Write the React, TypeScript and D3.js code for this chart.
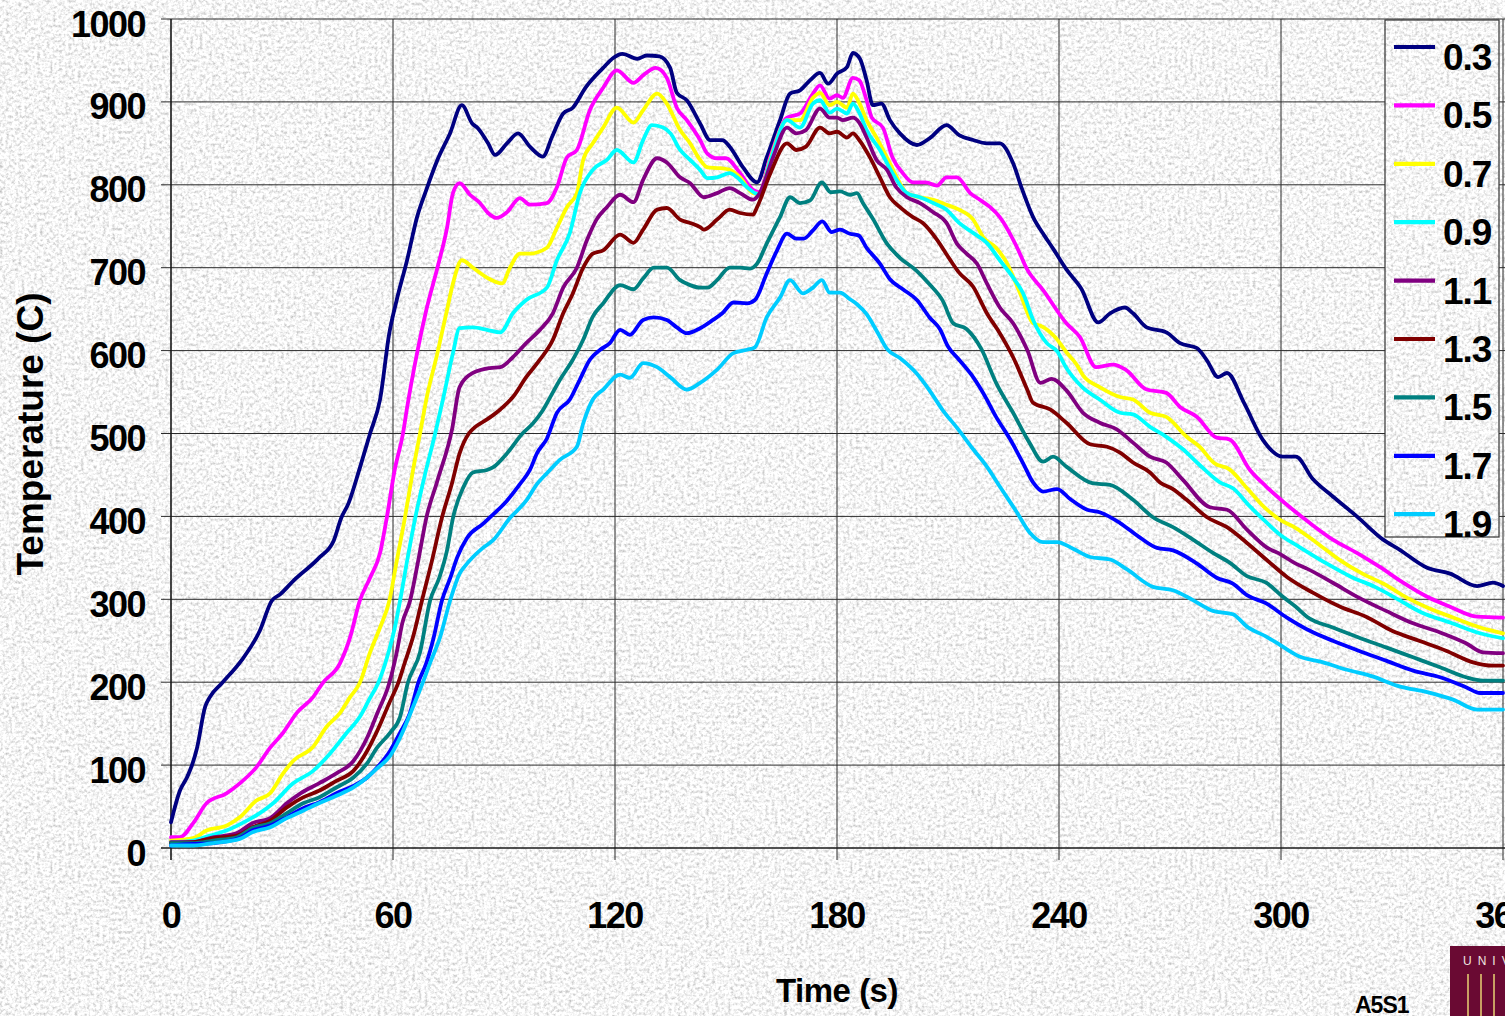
import React from "react";
import * as d3 from "d3";

const xTicks = [0, 60, 120, 180, 240, 300, 360];
const yTicks = [0, 100, 200, 300, 400, 500, 600, 700, 800, 900, 1000];
const seriesNames = ["0.3", "0.5", "0.7", "0.9", "1.1", "1.3", "1.5", "1.7", "1.9"];
const seriesColors = ["#000080", "#FF00FF", "#FFFF00", "#00FFFF", "#800080", "#800000", "#008080", "#0000FF", "#00CCFF"];

const s03 = [[0,31],[2.4,69],[4.3,85],[5.6,99],[7,120],[9.2,170],[10.5,182],[13.8,199],[19,226],[24,262],[27.2,298],[29.5,306],[33,322],[40,350],[44,371],[46,398],[48,416],[51,458],[53.8,500],[56.5,541],[59,621],[61,661],[63.8,709],[66.5,761],[69,794],[72,830],[75.4,862],[78.6,896],[81.4,874],[83,868],[85.7,850],[87.6,836],[90.8,850],[93.8,862],[97,846],[100.5,834],[103,858],[106,886],[108.6,893],[112,917],[116.8,941],[119.5,953],[122,958],[126,952],[128.6,956],[132,955],[134.9,941],[136.7,911],[139.4,902],[143,874],[145.7,854],[149,854],[151,846],[154.6,821],[158.4,803],[161,833],[164.6,878],[167.3,910],[170,914],[172.7,926],[175.4,935],[177.6,922],[180,934],[182.7,942],[184.3,959],[186.2,952],[188,926],[189.7,896],[192,898],[194.3,878],[197,862],[201.6,848],[205,856],[209.6,872],[213,860],[216.8,854],[220.5,850],[224,850],[227.6,826],[230,795],[233,761],[236,739],[238.4,723],[242,698],[246,675],[250.6,634],[253.8,645],[257.8,652],[260,645],[263.7,628],[269,622],[272.7,609],[277.3,603],[280,588],[283,568],[285.4,573],[290,537],[295,493],[300.5,472],[304,472],[308.6,445],[314,424],[320.5,400],[327.6,372],[332,360],[339.5,338],[345.7,331],[353,316],[357.3,320],[360,316]];

const s05 = [[0,13],[2.4,13],[6,30],[9.6,54],[15,66],[18.6,78],[23,97],[26.8,121],[30.3,139],[34,163],[38.4,182],[41,199],[45.7,223],[48.4,254],[51,298],[53.8,326],[56.5,356],[58.3,398],[60.5,457],[62.7,500],[63.8,531],[66.5,597],[69,649],[72,700],[74.6,748],[76.2,790],[78,802],[80.8,788],[83.5,778],[85.7,766],[88,760],[90.8,767],[94.3,784],[97,776],[101.6,778],[104.3,797],[107,833],[109.7,842],[113.2,890],[116.8,917],[120.5,938],[125,923],[127.6,932],[131,941],[134,929],[136.7,893],[139.4,878],[143,854],[144.9,838],[147.6,832],[150,832],[153.8,814],[157.3,794],[159,791],[162,834],[166.5,881],[170,886],[173.5,910],[175.4,920],[178,904],[180,908],[181.6,905],[184.3,929],[186,926],[188,902],[189.4,881],[192.4,869],[195,833],[197.8,814],[200.5,803],[204,803],[207,799],[209.6,809],[212.4,809],[216,790],[218.6,782],[221.4,773],[224,761],[228.6,725],[231.4,698],[235.7,673],[242,633],[245.7,616],[250,580],[254.6,583],[258,577],[263.7,553],[269,549],[272.7,532],[277.3,520],[282.6,495],[286,493],[291.6,456],[296,436],[302.4,411],[307.8,392],[314,372],[320.5,356],[326.7,339],[333,320],[339.5,303],[345.7,291],[353,279],[360,278]];

const s07 = [[0,9],[6,12],[9.6,21],[15,27],[18.6,37],[23,57],[26.8,66],[30.3,90],[33,105],[38.4,122],[42,146],[45.7,163],[48.4,182],[51,199],[53.8,236],[56.5,266],[59,298],[61,346],[63.2,398],[65.3,453],[67.3,500],[69,541],[72,597],[74.6,649],[76.2,681],[78.6,709],[81.6,700],[85.4,688],[89.5,681],[91.6,700],[94.3,717],[97,717],[101.6,724],[104.3,748],[107,773],[109.7,790],[111.4,830],[114,850],[116.8,869],[120.5,893],[125,875],[127.6,890],[131.4,910],[134,898],[137.6,866],[140.3,850],[143,830],[145,821],[148.4,820],[151,818],[153.8,809],[157.3,790],[159,789],[162,831],[166.5,878],[170,878],[173.5,905],[175.4,911],[178,896],[180,900],[182.7,893],[184.3,910],[186,899],[188,878],[190.7,857],[194.3,826],[197,802],[198.9,790],[202.4,785],[206,782],[209.6,776],[213,770],[216.8,758],[219.5,737],[223,724],[226,705],[229.5,669],[233,633],[235,630],[239,616],[242,598],[244.8,583],[246.5,570],[251,556],[256.5,544],[260,541],[264.6,525],[269,520],[274.5,496],[278,484],[282,464],[286,457],[291,433],[296,409],[299.7,396],[304,386],[309.7,368],[316,347],[322,331],[327.6,319],[334,302],[339.5,290],[346.5,278],[353.8,266],[360,259]];

const s09 = [[0,7],[6,9],[10.5,15],[15,21],[20.5,33],[24,42],[27.6,54],[33,78],[38.4,93],[43,114],[47.5,139],[51,158],[53.8,181],[56,199],[58.4,230],[60.5,266],[61.9,298],[64,351],[66,398],[68.5,448],[71.4,500],[73.5,541],[76.2,597],[78,627],[81.6,628],[85.4,625],[89,622],[92.4,645],[96,661],[101.6,676],[104.3,709],[107.8,742],[110.5,790],[114,818],[117.8,830],[120.5,842],[125,827],[127.6,854],[130,872],[133,869],[135,862],[137.6,842],[140.3,830],[143,818],[145,808],[147.6,809],[151,814],[153,809],[155.7,797],[157.8,790],[159,788],[162,829],[166.5,878],[170,869],[173.5,898],[175.4,902],[178,887],[180,892],[182.7,886],[184.3,898],[186,887],[188,866],[191.6,842],[195,814],[198.9,790],[202.4,785],[206,778],[209.6,770],[213,754],[216.8,742],[220.5,730],[224,709],[227.6,688],[230.3,669],[233,637],[236.7,609],[239.5,599],[242,579],[246.5,555],[251,541],[256.5,525],[260,523],[264.6,508],[269,496],[273.5,481],[278,462],[283.5,441],[287,434],[291.6,412],[296,393],[299.7,378],[305,363],[312,344],[319,327],[325.4,315],[332,299],[338,284],[345.7,272],[353,260],[360,253]];

const s11 = [[0,7],[6,7],[10.5,12],[17.8,18],[22,30],[26.8,36],[31.3,54],[35,66],[40,78],[44.7,90],[49.3,105],[53,133],[55.7,162],[59,199],[61,236],[62.5,271],[64.6,298],[67,351],[69,398],[72,443],[76,506],[78,556],[81.6,573],[86.2,579],[89,580],[92.4,592],[96,609],[99.7,625],[103.2,645],[106,676],[109.7,700],[112.4,733],[115,758],[117.8,773],[121.4,788],[125,779],[127.6,806],[131.4,832],[134,827],[137.6,809],[140.3,802],[144,785],[147.6,790],[151,796],[153.8,790],[157.3,782],[159,789],[162.7,833],[166.5,869],[169,862],[171.6,866],[175.4,892],[178,881],[180,881],[181.6,878],[184.3,881],[186,875],[188,857],[190.7,830],[193.5,818],[196,797],[198.9,785],[202.4,778],[206,767],[209.6,754],[212.4,729],[215,717],[217.8,705],[220.5,681],[224,652],[227.6,633],[231.4,601],[235,561],[238,566],[242,552],[246.5,525],[251,513],[255.6,505],[260,489],[264.6,472],[269,465],[273.5,444],[280.8,411],[285.4,408],[290.8,384],[296,363],[300,354],[304,343],[307,337],[314,320],[321,302],[328.4,286],[335.7,271],[343,260],[350,247],[354.6,236],[360,235]];

const s13 = [[0,6],[6,7],[11.4,12],[17.8,15],[22,25],[26.8,33],[31.3,49],[35.7,61],[40,69],[44.7,81],[49.3,93],[53,117],[55.7,141],[59,175],[61.4,199],[63,221],[65.5,256],[67.8,298],[70.5,346],[73.2,398],[76,441],[78,476],[80.5,500],[82,507],[85.4,517],[89,529],[92.4,544],[96,568],[99.7,589],[103.2,613],[106,645],[108.6,669],[111.4,700],[114,717],[116.8,721],[121.4,740],[125,730],[127.6,746],[131.4,770],[134,772],[137.6,758],[140.3,754],[143,749],[144,746],[147.6,758],[151,770],[153.8,766],[157.3,764],[158.4,773],[162,814],[166.5,850],[169,842],[171.6,846],[175.4,869],[178,862],[180,864],[182.7,857],[184.3,862],[186,854],[188.9,833],[191.6,809],[194.3,785],[197,773],[200.5,761],[203.2,754],[207,734],[210.5,710],[213,694],[216.8,677],[220.5,645],[224,621],[227.6,592],[231.4,553],[233,537],[237.6,529],[242,513],[248.4,487],[253,484],[256.5,477],[260,465],[264.6,453],[267.3,441],[270.8,433],[274.5,420],[280,399],[285.4,387],[290.8,368],[296,348],[301.6,327],[308.6,308],[316,291],[323,279],[330,262],[337.3,250],[344.6,238],[351.9,224],[357.3,220],[360,220]];

const s15 = [[0,6],[6,6],[11.4,9],[17.8,13],[22,24],[26.8,30],[31.3,42],[35.7,54],[40,61],[44.7,73],[49.3,85],[53,102],[55.7,121],[59.2,139],[61.9,158],[64,199],[67.3,236],[70,298],[72.5,326],[74.6,359],[76.2,398],[79,435],[81.6,453],[85.4,456],[87,459],[90.8,476],[95,500],[97.8,512],[100.5,528],[102.4,543],[105,564],[108.6,589],[111.4,613],[114,641],[116.8,657],[121.4,679],[125,674],[127.6,687],[130.5,700],[134,700],[137.6,685],[140.3,679],[143,676],[145,676],[147.6,685],[151,700],[153.8,700],[156.5,699],[158.4,705],[161,729],[164.6,761],[167.3,785],[170,778],[172.7,781],[175.9,803],[178.3,791],[180.8,792],[183.5,788],[185.4,790],[187,778],[189.7,759],[193.5,729],[197,712],[201.6,696],[205,680],[208.6,660],[211.4,633],[215,626],[219,602],[223,561],[227.6,525],[232,489],[235.7,466],[238.4,472],[242,460],[249,440],[253.8,438],[260,420],[265.4,399],[270.8,387],[276.2,372],[281.6,356],[286.2,344],[290.8,328],[296,320],[300.5,303],[304,291],[307,279],[314,266],[321,254],[328.4,242],[335.7,230],[343,218],[350,206],[354.6,202],[360,202]];

const s17 = [[0,3],[6,5],[11.4,6],[18.6,12],[22,21],[26.8,27],[31.3,37],[35.7,48],[40,55],[44.7,66],[49.3,75],[53,85],[55.7,97],[59.2,117],[61.9,139],[64.6,163],[66.8,199],[69,223],[71,254],[73.2,298],[75.5,326],[77.3,350],[80,374],[84.3,391],[86,398],[90.8,419],[94.3,439],[97,456],[98.9,476],[101.6,494],[104.3,525],[107.8,541],[110.5,565],[113.2,589],[116,601],[118.6,609],[121.4,625],[124,619],[127.6,637],[130.5,640],[134,637],[136.7,628],[139.4,621],[143,627],[146.5,637],[149,645],[152,658],[155.7,657],[157.8,661],[161,693],[163.8,721],[166.5,741],[169,735],[171,735],[173.5,745],[176,756],[178.6,743],[180.8,746],[183.5,741],[185.8,739],[188,724],[191.6,705],[194.3,686],[197.8,674],[201.6,661],[205,640],[207.8,626],[210,605],[213,589],[216.8,568],[220,545],[223,520],[226.8,493],[230.3,464],[233,441],[235.7,430],[239.5,433],[243,421],[247.6,408],[251,405],[256.5,392],[262,374],[266.5,362],[270.8,359],[277.3,343],[282.6,326],[287,319],[290.8,305],[296,295],[301.6,278],[307.8,262],[314,250],[321,238],[328.4,226],[335.7,214],[343,206],[350,194],[353.8,187],[360,187]];

const s19 = [[0,3],[6,3],[11.4,6],[18.6,11],[22,19],[26.8,25],[31.3,36],[35.7,45],[40,54],[44.7,63],[49.3,73],[53,85],[55.7,96],[59.2,111],[61.9,133],[65.4,170],[68,199],[70,223],[72.7,254],[75.4,298],[78,331],[80,343],[84.3,362],[87,371],[91.6,398],[96,419],[98.9,439],[101.6,452],[105,468],[109.7,484],[111.4,512],[114,541],[116.8,553],[121.4,571],[124,567],[127.6,585],[131.4,580],[134.9,568],[139.4,553],[143,561],[147.6,577],[152,597],[155.7,601],[157.8,604],[161,640],[164.6,664],[167.3,685],[170.8,669],[173.5,676],[175.9,685],[178,670],[180.8,670],[183.5,662],[185.4,656],[188,644],[190.7,624],[193.5,602],[197,591],[201.6,572],[205,552],[208.6,528],[212.4,507],[216.8,481],[220.5,460],[224,436],[228.6,405],[232,381],[235.7,369],[239.5,369],[243.8,361],[248.4,351],[253.8,348],[258.4,336],[265.4,315],[270.8,311],[276.2,299],[281.6,286],[287,282],[290.8,267],[296,255],[299.7,245],[305,231],[311.4,224],[317.8,215],[324.7,207],[332,195],[339.5,188],[346.5,179],[353,167],[360,167]];

const seriesData = [s03, s05, s07, s09, s11, s13, s15, s17, s19];

const W = 1505;
const H = 1016;
const FONT = "'Liberation Sans', Arial, Helvetica, sans-serif";

export default function App() {
  const x = d3.scaleLinear().domain([0, 360]).range([171, 1503]);
  const y = d3.scaleLinear().domain([0, 1000]).range([848, 19]);
  const line = d3
    .line<number[]>()
    .x((d) => x(d[0]))
    .y((d) => y(d[1]))
    .curve(d3.curveMonotoneX);

  const legX = 1385;
  const legY = 20;
  const legW = 114;
  const legH = 517;
  const legStep = 58.4;

  return (
    <svg
      width={W}
      height={H}
      style={{ position: "absolute", left: 0, top: 0, display: "block" }}
      xmlns="http://www.w3.org/2000/svg"
    >
      <defs>
        <filter id="granite" filterUnits="userSpaceOnUse" x="0" y="0" width={W} height={H}>
          <feTurbulence type="fractalNoise" baseFrequency="0.32" numOctaves="3" seed="11" result="t" />
          <feColorMatrix
            in="t"
            type="matrix"
            values="1 0 0 0 0  1 0 0 0 0  1 0 0 0 0  0 0 0 0 1"
            result="g"
          />
          <feComponentTransfer in="g" result="c">
            <feFuncR type="linear" slope="1.0" intercept="0.42" />
            <feFuncG type="linear" slope="1.0" intercept="0.42" />
            <feFuncB type="linear" slope="1.0" intercept="0.42" />
          </feComponentTransfer>
          <feComposite in="c" in2="SourceGraphic" operator="in" />
        </filter>
        <clipPath id="plotClip">
          <rect x={0} y={0} width={W} height={H} />
        </clipPath>
      </defs>

      <rect x={0} y={0} width={W} height={H} fill="#e8e8e8" />
      <rect x={0} y={0} width={W} height={H} fill="#e8e8e8" filter="url(#granite)" />

      {/* horizontal grid */}
      {yTicks.map((t) => (
        <line key={"hy" + t} x1={161} x2={W} y1={y(t)} y2={y(t)} stroke="#2a2a2a" strokeWidth={1} />
      ))}
      {/* vertical grid */}
      {xTicks.map((t) => (
        <line key={"vx" + t} x1={x(t)} x2={x(t)} y1={19} y2={860} stroke="#2a2a2a" strokeWidth={1} />
      ))}
      <line x1={171} x2={171} y1={19} y2={860} stroke="#111" strokeWidth={1.2} />
      <line x1={161} x2={W} y1={848} y2={848} stroke="#111" strokeWidth={1.2} />

      {/* y tick labels */}
      {yTicks.map((t) => (
        <text
          key={"yl" + t}
          x={145}
          y={y(t) + 17.5}
          textAnchor="end"
          fontFamily={FONT}
          fontWeight="bold"
          fontSize={36}
          letterSpacing={-1.5}
          fill="#000"
        >
          {t}
        </text>
      ))}
      {/* x tick labels */}
      {xTicks.map((t) => (
        <text
          key={"xl" + t}
          x={x(t)}
          y={928}
          textAnchor="middle"
          fontFamily={FONT}
          fontWeight="bold"
          fontSize={36}
          letterSpacing={-1.5}
          fill="#000"
        >
          {t}
        </text>
      ))}

      {/* axis titles */}
      <text
        x={837}
        y={1002}
        textAnchor="middle"
        fontFamily={FONT}
        fontWeight="bold"
        fontSize={33}
        letterSpacing={-0.5}
        fill="#000"
      >
        Time (s)
      </text>
      <text
        transform="translate(43,434) rotate(-90)"
        textAnchor="middle"
        fontFamily={FONT}
        fontWeight="bold"
        fontSize={37}
        fill="#000"
      >
        Temperature (C)
      </text>

      {/* series */}
      <g clipPath="url(#plotClip)">
        {seriesData.map((s, i) => (
          <path
            key={"s" + i}
            d={line(s as number[][]) || ""}
            fill="none"
            stroke={seriesColors[i]}
            strokeWidth={3.8}
            strokeLinejoin="round"
            strokeLinecap="round"
          />
        ))}
      </g>

      {/* legend */}
      <rect x={legX} y={legY} width={legW} height={legH} fill="#e8e8e8" />
      <rect x={legX} y={legY} width={legW} height={legH} fill="#e8e8e8" filter="url(#granite)" />
      <rect x={legX} y={legY} width={legW} height={legH} fill="none" stroke="#333" strokeWidth={1.2} />
      {seriesNames.map((n, i) => {
        const ly = 47 + i * legStep;
        return (
          <g key={"lg" + i}>
            <line x1={1394} x2={1435} y1={ly} y2={ly} stroke={seriesColors[i]} strokeWidth={4.2} />
            <text
              x={1443}
              y={ly + 23}
              fontFamily={FONT}
              fontWeight="bold"
              fontSize={37}
              letterSpacing={-1}
              fill="#000"
            >
              {n}
            </text>
          </g>
        );
      })}

      {/* footer label */}
      <text x={1355} y={1013} fontFamily={FONT} fontWeight="bold" fontSize={23} letterSpacing={-1} fill="#000">
        A5S1
      </text>

      {/* logo */}
      <rect x={1450} y={946} width={60} height={75} fill="#6a0a33" />
      <text x={1463} y={965} fontFamily={FONT} fontSize={12} letterSpacing={6} fill="#f0e6e0">
        UNIVERSITY
      </text>
      {[1468, 1481, 1494].map((lx) => (
        <line key={"lx" + lx} x1={lx} x2={lx} y1={974} y2={H} stroke="#c9a063" strokeWidth={2} />
      ))}
    </svg>
  );
}
